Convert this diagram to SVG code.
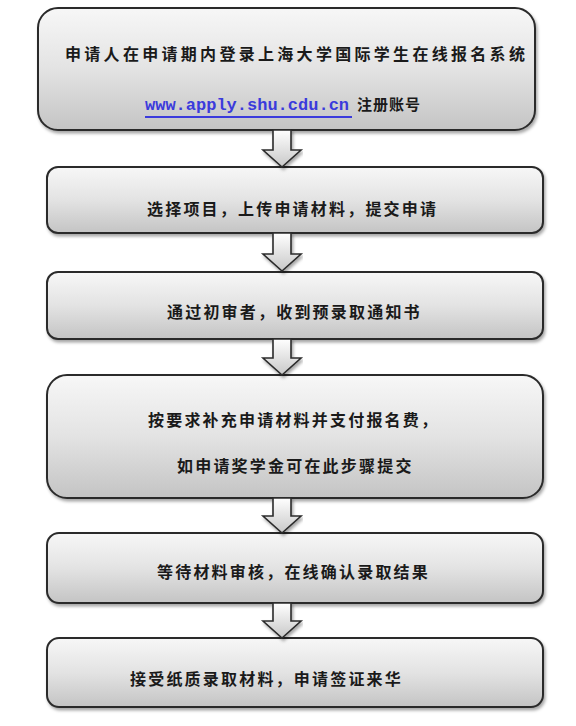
<svg xmlns="http://www.w3.org/2000/svg" width="576" height="726" viewBox="0 0 576 726">
<defs>
<linearGradient id="boxFill" x1="0" y1="0" x2="0" y2="1">
<stop offset="0" stop-color="#f7f7f7"/>
<stop offset="0.5" stop-color="#e3e3e3"/>
<stop offset="1" stop-color="#c4c4c4"/>
</linearGradient>
<linearGradient id="arrowFill" x1="0" y1="0" x2="0" y2="1">
<stop offset="0" stop-color="#ffffff"/>
<stop offset="1" stop-color="#c8c8c8"/>
</linearGradient>
<filter id="shadow" x="-5%" y="-10%" width="110%" height="130%">
<feDropShadow dx="1.5" dy="2.5" stdDeviation="1.8" flood-color="#000" flood-opacity="0.35"/>
</filter>
</defs>
<style>
.box{fill:url(#boxFill);stroke:#2b2b2b;stroke-width:2;filter:url(#shadow);}
.arrow{fill:url(#arrowFill);stroke:#2b2b2b;stroke-width:1.6;stroke-linejoin:miter;filter:url(#shadow);}
.t{font-family:"Noto Sans CJK SC","Liberation Sans",sans-serif;font-size:16px;font-weight:700;fill:#1a1a1a;letter-spacing:2.2px;}
.t1{letter-spacing:3.3px;}
.url{font-family:"Liberation Mono",monospace;font-size:17px;font-weight:700;fill:#3b3bdc;}
.small{font-size:15px;letter-spacing:1px;}
</style>
<rect width="576" height="726" fill="#ffffff"/>
<g id="node1">
<rect class="box" x="38" y="8" width="497" height="122" rx="20" ry="20"/>
<text class="t t1" x="65" y="60">申请人在申请期内登录上海大学国际学生在线报名系统</text>
<text class="url" x="145" y="110">www.apply.shu.cdu.cn</text>
<line x1="145" y1="117" x2="352" y2="117" stroke="#3b3bdc" stroke-width="2"/>
<text class="t small" x="357" y="110">注册账号</text>
</g>
<g id="node2">
<rect class="box" x="47" y="167" width="496" height="66" rx="11" ry="11"/>
<text class="t" x="147" y="215">选择项目，上传申请材料，提交申请</text>
</g>
<g id="node3">
<rect class="box" x="47" y="272" width="496" height="67" rx="11" ry="11"/>
<text class="t" x="167" y="318">通过初审者，收到预录取通知书</text>
</g>
<g id="node4">
<rect class="box" x="47" y="375" width="496" height="123" rx="20" ry="20"/>
<text class="t" x="148" y="426">按要求补充申请材料并支付报名费，</text>
<text class="t" x="177" y="472">如申请奖学金可在此步骤提交</text>
</g>
<g id="node5">
<rect class="box" x="47" y="533" width="496" height="70" rx="12" ry="12"/>
<text class="t" x="157" y="578">等待材料审核，在线确认录取结果</text>
</g>
<g id="node6">
<rect class="box" x="47" y="638" width="496" height="69" rx="12" ry="12"/>
<text class="t" x="130" y="685">接受纸质录取材料，申请签证来华</text>
</g>
<g id="connectors">
<path class="arrow" d="M273,130 H291 V150 H301 L282,167 L263,150 H273 Z"/>
<path class="arrow" d="M273,233 H291 V254 H301 L282,271 L263,254 H273 Z"/>
<path class="arrow" d="M273,339 H291 V358 H301 L282,375 L263,358 H273 Z"/>
<path class="arrow" d="M273,498 H291 V516 H301 L282,533 L263,516 H273 Z"/>
<path class="arrow" d="M273,603 H291 V621 H301 L282,638 L263,621 H273 Z"/>
</g>
</svg>
